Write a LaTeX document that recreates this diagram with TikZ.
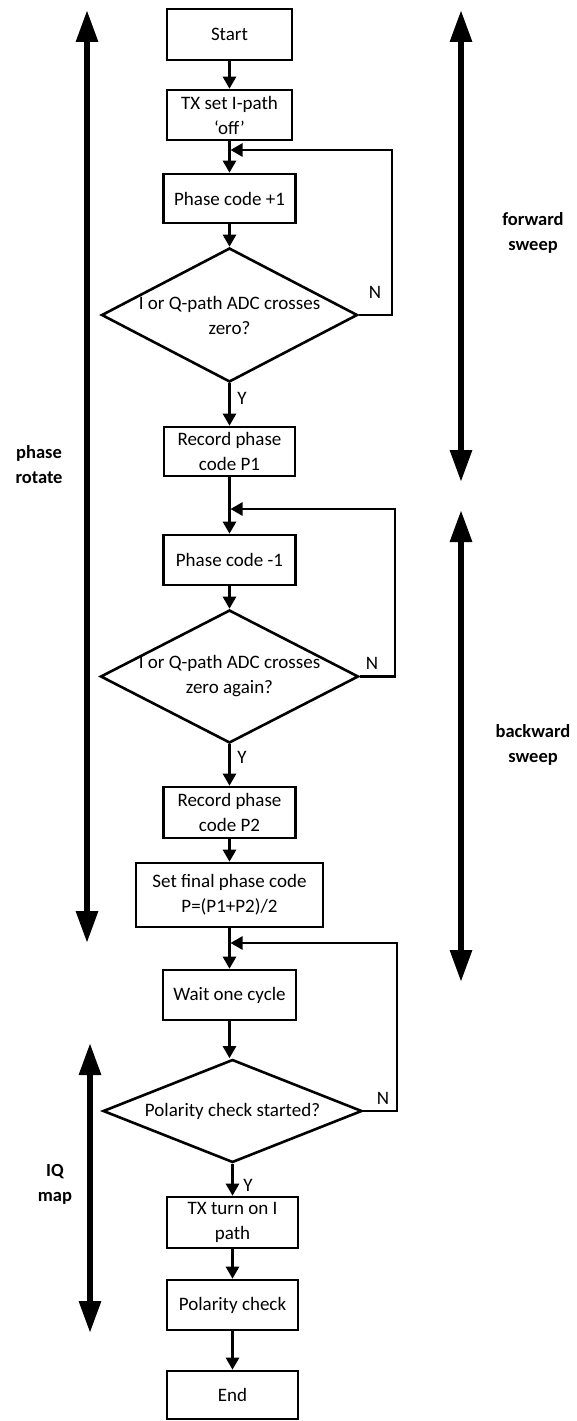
\documentclass[tikz,border=0pt]{standalone}
\usepackage{fontspec}
\setmainfont{Carlito}
\usetikzlibrary{arrows.meta,shapes.geometric}
\begin{document}
\begin{tikzpicture}[x=1pt,y=-1pt,
  box/.style={draw,line width=2.6pt,rectangle,inner sep=0pt,align=center,
    font=\fontsize{19}{25}\selectfont},
  dia/.style={draw,line width=2.6pt,diamond,inner sep=0pt},
  dtext/.style={align=center,font=\fontsize{19}{25}\selectfont},
  yn/.style={font=\fontsize{19}{25}\selectfont},
  arr/.style={line width=2.6pt,-{Triangle[length=12pt,width=13pt]}},
  big/.style={line width=6pt,{Triangle[length=32pt,width=21pt]}-{Triangle[length=32pt,width=21pt]}},
  side/.style={align=center,font=\fontsize{18.5}{25}\selectfont\bfseries}]
\useasboundingbox (0,0) rectangle (576,1421);

% boxes
\node[box,minimum width=125pt,minimum height=51pt] (start) at (229.5,34.5) {Start};
\node[box,minimum width=125pt,minimum height=50pt] (tx) at (229.5,115) {TX set I-path\\‘off’};
\node[box,minimum width=132pt,minimum height=49pt] (pp) at (229.5,198.5) {Phase code +1};
\node[dia,minimum width=256pt,minimum height=134pt] (d1) at (229.5,315) {};
\node[dtext] at (d1) {I or Q-path ADC crosses\\zero?};
\node[box,minimum width=131pt,minimum height=49pt] (r1) at (229.5,451.5) {Record phase\\code P1};
\node[box,minimum width=132pt,minimum height=50pt] (pm) at (229.5,560) {Phase code -1};
\node[dia,minimum width=258pt,minimum height=133pt] (d2) at (229.5,676.5) {};
\node[dtext] at (d2) {I or Q-path ADC crosses\\zero again?};
\node[box,minimum width=132pt,minimum height=51pt] (r2) at (229.5,812.5) {Record phase\\code P2};
\node[box,minimum width=187pt,minimum height=64pt] (sf) at (229.5,895) {Set final phase code\\P=(P1+P2)/2};
\node[box,minimum width=133pt,minimum height=50pt] (wt) at (229.5,995) {Wait one cycle};
\node[dia,minimum width=259pt,minimum height=103pt] (d3) at (232.5,1111) {};
\node[dtext] at (d3) {Polarity check started?};
\node[box,minimum width=131pt,minimum height=51pt] (tn) at (232.5,1222.5) {TX turn on I\\path};
\node[box,minimum width=131pt,minimum height=50pt] (pc) at (232.5,1305) {Polarity check};
\node[box,minimum width=131pt,minimum height=48pt] (en) at (232.5,1395) {End};

% main flow
\draw[arr] (start.south) -- (tx.north);
\draw[arr] (tx.south) -- (pp.north);
\draw[arr] (pp.south) -- (d1.north);
\draw[arr] (d1.south) -- (r1.north);
\draw[arr] (r1.south) -- (pm.north);
\draw[arr] (pm.south) -- (d2.north);
\draw[arr] (d2.south) -- (r2.north);
\draw[arr] (r2.south) -- (sf.north);
\draw[arr] (sf.south) -- (wt.north);
\draw[arr] (wt.south) -- (wt.south |- d3.north);
\draw[arr] (d3.south) -- (tn.north);
\draw[arr] (tn.south) -- (pc.north);
\draw[arr] (pc.south) -- (en.north);

% loops
\coordinate (j1) at (230.5,150);
\coordinate (j2) at (230.5,509);
\coordinate (j3) at (230.5,943);
\draw[arr] (d1.east) -- (392,315) |- (j1);
\draw[arr] (d2.east) -- (395,676.5) |- (j2);
\draw[arr] (d3.east) -- (397,1111) |- (j3);

% labels
\node[yn] at (375,292) {N};
\node[yn] at (372,663) {N};
\node[yn] at (383,1098) {N};
\node[yn] at (242,398) {Y};
\node[yn] at (242,757) {Y};
\node[yn] at (248,1185) {Y};

% side arrows
\coordinate (pr1) at (87,10);
\coordinate (pr2) at (87,943);
\coordinate (fw1) at (461,10);
\coordinate (fw2) at (461,482);
\coordinate (bw1) at (461,510);
\coordinate (bw2) at (461,982);
\coordinate (iq1) at (90,1043);
\coordinate (iq2) at (90,1333);
\draw[big] (pr1) -- (pr2);
\draw[big] (fw1) -- (fw2);
\draw[big] (bw1) -- (bw2);
\draw[big] (iq1) -- (iq2);

\node[side] at (39,465) {phase\\rotate};
\node[side] at (533,233) {forward\\sweep};
\node[side] at (533,745) {backward\\sweep};
\node[side] at (55,1184) {IQ\\map};
\end{tikzpicture}
\end{document}
